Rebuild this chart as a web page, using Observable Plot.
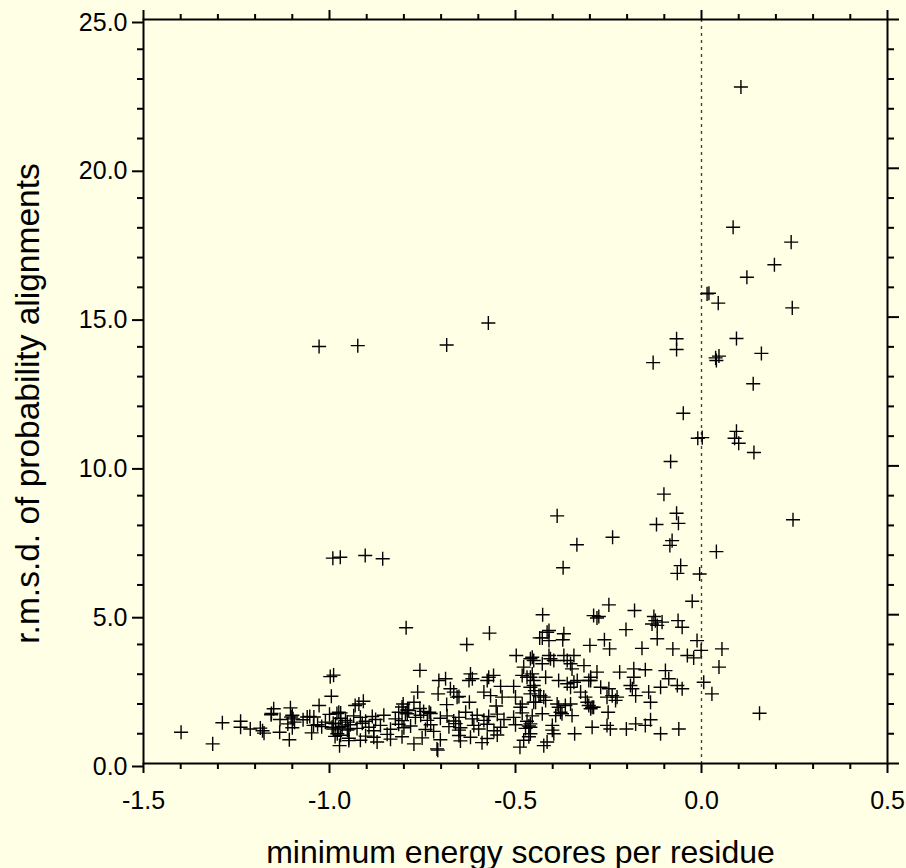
<!DOCTYPE html>
<html>
<head>
<meta charset="utf-8">
<script src="https://cdn.jsdelivr.net/npm/d3@7"></script>
<script src="https://cdn.jsdelivr.net/npm/@observablehq/plot@0.6"></script>
<style>
  html, body { margin: 0; padding: 0; background: #ffffe5; }
  #chart svg { display: block; }
</style>
</head>
<body>
<div id="chart"></div>
<script>
// Minimum energy score per residue vs. r.m.s.d. of probability alignments.
// Each entry is [energy score, r.m.s.d.].

// far-left tail, scores below about -0.95
const leftTail = [
  [-1.399,1.05],[-1.314,0.66],[-1.288,1.37],[-1.239,1.42],[-1.239,1.22],[-1.213,1.16],
  [-1.186,1.19],[-1.180,1.10],[-1.176,1.02],[-1.157,1.64],[-1.150,1.84],[-1.156,1.68],
  [-1.133,1.48],[-1.134,1.05],[-1.108,0.80],[-1.105,1.87],[-1.103,1.56],[-1.100,1.62],
  [-1.094,1.39],[-1.112,1.33],[-1.100,1.20],[-1.098,1.50],[-1.071,1.47],[-1.060,1.56],
  [-1.053,1.58],[-1.042,1.56],[-1.048,1.03],[-1.043,1.28],[-1.028,1.95],[-1.032,1.30],
  [-1.021,1.24],[-1.011,1.39],[-0.998,2.92],[-0.989,2.97],[-0.995,2.26],[-1.000,1.65],
  [-0.990,1.35],[-0.980,1.68],[-0.990,1.16],[-0.985,0.91],[-0.973,0.60],[-0.975,1.20],
  [-0.970,1.70],[-0.975,1.72],[-0.984,1.33],[-0.993,1.22],[-0.979,1.00],[-0.952,1.39],
  [-0.948,1.16],[-0.948,0.77]
];

// dense low band between -0.97 and -0.45
const lowBand = [
  [-0.970,1.52],[-0.957,1.45],[-0.935,1.60],[-0.917,1.55],[-0.903,1.42],[-0.885,1.58],
  [-0.876,1.48],[-0.854,1.62],[-0.823,1.50],[-0.805,1.44],[-0.796,1.70],[-0.769,1.55],
  [-0.755,1.62],[-0.737,1.45],[-0.728,1.68],[-0.702,1.52],[-0.684,1.60],[-0.666,1.43],
  [-0.652,1.55],[-0.634,1.72],[-0.616,1.50],[-0.603,1.62],[-0.585,1.45],[-0.572,1.58],
  [-0.549,1.66],[-0.531,1.48],[-0.505,1.55],[-0.482,1.70],[-0.469,1.42],[-0.455,1.60],
  [-0.966,1.25],[-0.952,1.12],[-0.944,1.30],[-0.926,1.18],[-0.912,1.35],[-0.894,1.22],
  [-0.881,1.10],[-0.863,1.28],[-0.836,1.15],[-0.814,1.32],[-0.800,1.20],[-0.782,1.26],
  [-0.742,1.14],[-0.728,1.30],[-0.720,1.08],[-0.679,1.24],[-0.661,1.34],[-0.652,1.12],
  [-0.648,1.20],[-0.612,1.28],[-0.599,1.16],[-0.576,1.32],[-0.558,1.10],[-0.540,1.22],
  [-0.500,1.30],[-0.473,1.18],[-0.464,1.26],
  [-0.970,0.95],[-0.948,0.85],[-0.917,0.78],[-0.903,0.92],[-0.881,0.88],[-0.872,0.72],
  [-0.845,0.98],[-0.836,0.82],[-0.805,0.90],[-0.751,0.86],[-0.702,0.80],[-0.652,0.94],
  [-0.648,0.76],[-0.621,0.88],[-0.590,0.70],[-0.576,0.84],[-0.549,0.96],[-0.478,0.78],
  [-0.464,0.90],[-0.711,0.49],[-0.709,0.45],[-0.773,0.66],[-0.488,0.55],
  [-0.805,1.90],[-0.791,1.80],[-0.757,1.85],[-0.747,1.75],[-0.732,1.72],[-0.814,1.72]
];

// scattered points above the band, -0.95 to -0.43
const midCloud = [
  [-0.794,4.56],[-0.570,4.38],[-0.631,4.00],[-0.498,3.63],[-0.455,3.57],[-0.435,4.22],
  [-0.478,3.24],[-0.482,2.96],[-0.469,2.90],[-0.455,3.01],[-0.757,3.13],[-0.763,2.40],
  [-0.802,2.00],[-0.773,2.06],[-0.787,1.78],[-0.791,1.67],[-0.706,2.79],[-0.688,2.85],
  [-0.708,2.34],[-0.675,2.51],[-0.666,2.40],[-0.657,2.23],[-0.652,2.25],[-0.685,1.98],
  [-0.621,3.01],[-0.616,2.85],[-0.625,2.79],[-0.624,2.06],[-0.585,2.40],[-0.576,2.79],
  [-0.559,2.96],[-0.572,2.90],[-0.567,2.28],[-0.540,2.59],[-0.536,2.23],[-0.552,1.93],
  [-0.505,2.59],[-0.500,2.23],[-0.482,2.00],[-0.487,1.89],[-0.451,2.62],[-0.448,2.45],
  [-0.451,2.06],[-0.437,2.28],[-0.931,1.95],[-0.921,2.00],[-0.909,2.09]
];

// cloud from -0.46 up to the zero line
const nearZero = [
  [-0.372,6.58],[-0.065,6.39],[-0.056,6.65],[-0.005,6.37],[-0.025,5.45],[-0.249,5.33],
  [-0.180,5.14],[-0.427,5.00],[-0.290,4.97],[-0.281,4.89],[-0.276,4.94],[-0.128,4.94],
  [-0.124,4.80],[-0.133,4.69],[-0.106,4.75],[-0.119,4.64],[-0.063,4.80],[-0.052,4.58],
  [-0.203,4.50],[-0.410,4.47],[-0.415,4.41],[-0.428,4.22],[-0.410,4.13],[-0.370,4.36],
  [-0.373,4.16],[-0.261,4.16],[-0.300,3.97],[-0.247,3.85],[-0.160,3.87],[-0.119,4.19],
  [-0.077,3.85],[-0.038,3.63],[-0.021,3.55],[-0.012,4.13],[-0.001,3.80],[0.055,3.85],
  [0.047,3.24],[0.006,2.73],[0.028,2.34],
  [-0.460,3.52],[-0.451,3.46],[-0.428,3.35],[-0.410,3.63],[-0.406,3.52],[-0.397,3.46],
  [-0.370,3.63],[-0.361,3.46],[-0.352,3.35],[-0.343,3.63],[-0.348,3.18],[-0.316,3.29],
  [-0.281,3.07],[-0.298,2.90],[-0.303,2.79],[-0.220,3.07],[-0.182,3.18],[-0.182,2.90],
  [-0.151,3.15],[-0.097,3.12],[-0.088,2.85],
  [-0.460,2.90],[-0.451,2.79],[-0.419,2.90],[-0.384,2.79],[-0.361,2.68],[-0.352,2.56],
  [-0.343,2.73],[-0.334,2.79],[-0.298,2.79],[-0.271,2.56],[-0.249,2.51],[-0.191,2.62],
  [-0.186,2.51],[-0.110,2.56],[-0.065,2.62],[-0.052,2.51],
  [-0.240,2.28],[-0.227,2.23],[-0.231,2.12],[-0.254,2.23],[-0.177,2.28],[-0.142,2.40],
  [-0.137,2.06],[-0.460,2.56],[-0.460,2.34],[-0.433,2.28],[-0.424,2.23],[-0.419,2.12],
  [-0.446,2.06],[-0.388,2.00],[-0.384,1.89],[-0.379,1.72],[-0.375,1.67],[-0.392,1.61],
  [-0.366,1.95],[-0.352,2.00],[-0.348,1.61],[-0.325,2.40],[-0.312,2.23],[-0.307,2.06],
  [-0.303,1.95],[-0.298,1.84],[-0.294,1.89],[-0.290,1.89],[-0.251,1.72],[-0.428,1.67],
  [-0.460,1.33],[-0.460,1.22],[-0.460,1.00],[-0.401,1.28],[-0.401,1.12],[-0.397,1.00],
  [-0.341,1.00],[-0.294,1.22],[-0.254,1.28],[-0.245,1.16],[-0.202,1.16],[-0.177,1.33],
  [-0.151,1.28],[-0.137,1.47],[-0.110,1.00],[-0.061,1.16],[-0.424,0.60],[-0.415,0.72],
  [0.156,1.69]
];

// high r.m.s.d. points
const highScatter = [
  [0.106,22.73],[0.085,18.02],[0.241,17.52],[0.196,16.76],[0.122,16.34],[0.015,15.78],
  [0.020,15.80],[0.045,15.47],[0.244,15.31],[-0.067,14.27],[-0.067,13.91],[0.094,14.28],
  [-0.130,13.47],[0.038,13.63],[0.047,13.69],[0.040,13.54],[0.161,13.78],[0.139,12.76],
  [-0.049,11.77],[-0.010,10.93],[0.002,10.95],[0.094,11.16],[0.089,10.93],[0.100,10.76],
  [0.141,10.45],[-0.083,10.15],[-0.101,9.05],[-0.067,8.41],[-0.062,8.07],[-0.121,8.03],
  [0.246,8.19],[-0.079,7.49],[-0.085,7.33],[-0.239,7.60],[0.040,7.12],
  [-0.388,8.32],[-0.335,7.35],
  [-1.028,14.01],[-0.924,14.04],[-0.685,14.06],[-0.573,14.80],
  [-0.991,6.90],[-0.971,6.93],[-0.904,6.99],[-0.857,6.88]
];

const points = [...leftTail, ...lowBand, ...midCloud, ...nearZero, ...highScatter];

// axes
const xMajor = [-1.5, -1.0, -0.5, 0.0, 0.5];
const yMajor = [0, 5, 10, 15, 20, 25];
const xTitle = "minimum energy scores per residue";
const yTitle = "r.m.s.d. of probability alignments";

const xMinor = d3.range(-15, 6).map(i => i / 10).filter(v => !xMajor.some(m => Math.abs(m - v) < 1e-9));
const yMinor = d3.range(0, 26).filter(v => !yMajor.includes(v));
const fmt = d => d.toFixed(1);

const FONT = "'Liberation Sans', Arial, Helvetica, sans-serif";
const tickStyle = {stroke: "black", strokeWidth: 2, label: null};

const chart = Plot.plot({
  width: 906,
  height: 868,
  marginLeft: 143,
  marginRight: 19,
  marginTop: 19,
  marginBottom: 105,
  style: {background: "#ffffe5", fontFamily: FONT, color: "black"},
  x: {domain: [-1.5, 0.5]},
  y: {domain: [0, 25]},
  marks: [
    Plot.ruleX([0], {stroke: "#444", strokeWidth: 1.4, strokeDasharray: "3,4"}),
    Plot.dot(points, {x: d => d[0], y: d => d[1], symbol: "plus", r: 4.6, stroke: "black", strokeWidth: 1.4}),
    Plot.frame({stroke: "black", strokeWidth: 2}),
    // bottom
    Plot.axisX({...tickStyle, anchor: "bottom", ticks: xMajor, tickSize: 10, tickPadding: 18, tickFormat: fmt, fontSize: 25}),
    Plot.axisX({...tickStyle, anchor: "bottom", ticks: xMinor, tickSize: 6, fill: "none"}),
    // top
    Plot.axisX({...tickStyle, anchor: "top", ticks: xMajor, tickSize: 10, fill: "none"}),
    Plot.axisX({...tickStyle, anchor: "top", ticks: xMinor, tickSize: 6, fill: "none"}),
    // left
    Plot.axisY({...tickStyle, anchor: "left", ticks: yMajor, tickSize: 11, tickPadding: 5, tickFormat: fmt, fontSize: 25, dy: 3}),
    Plot.axisY({...tickStyle, anchor: "left", ticks: yMinor, tickSize: 6, fill: "none"}),
    // right
    Plot.axisY({...tickStyle, anchor: "right", ticks: yMajor, tickSize: 11, fill: "none"}),
    Plot.axisY({...tickStyle, anchor: "right", ticks: yMinor, tickSize: 6, fill: "none"}),
    // titles
    Plot.text([xTitle], {frameAnchor: "bottom", text: d => d, textAnchor: "middle", lineAnchor: "bottom", dy: 99, dx: 5, fontSize: 32, fill: "black"}),
    Plot.text([yTitle], {frameAnchor: "left", text: d => d, textAnchor: "middle", lineAnchor: "bottom", rotate: -90, dx: -105, dy: 12, fontSize: 33.5, fill: "black"})
  ]
});

document.getElementById("chart").appendChild(chart);
</script>
</body>
</html>
